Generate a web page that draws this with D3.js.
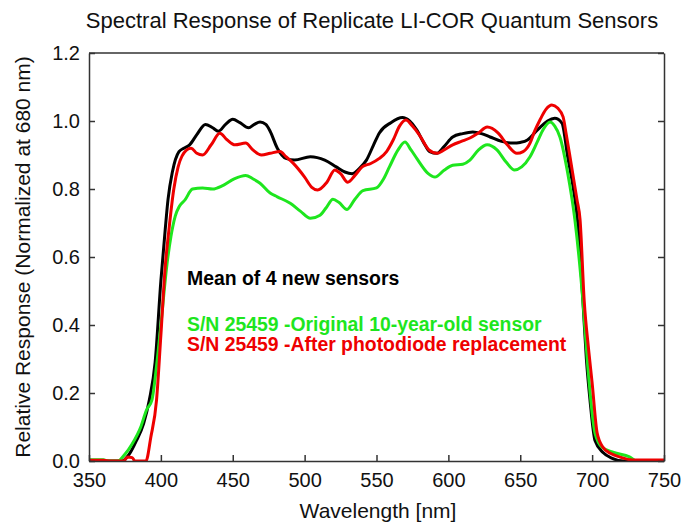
<!DOCTYPE html>
<html>
<head>
<meta charset="utf-8">
<script src="https://cdn.jsdelivr.net/npm/d3@7"></script>
<style>
  body { margin: 0; background: #fff; }
  text { font-family: "Liberation Sans", Arial, sans-serif; }
</style>
</head>
<body>
<div id="chart"></div>
<script>
// Mean of 4 new sensors (black)
const meanWl = [350, 370, 373, 378, 383, 388, 392, 396, 400, 403, 405, 408, 412.6, 416, 420, 425, 431, 436, 440, 445, 450, 455, 461, 465, 469, 473, 476, 481, 487, 493, 504, 514, 522, 528, 533, 538, 543, 548, 552, 560, 568, 573, 578, 583, 587, 592, 597, 603, 610, 617, 623, 629, 637, 645, 650, 655, 660, 664, 669, 674, 679, 683, 687, 690, 693.6, 696, 698.5, 702, 707.6, 714, 722, 750];
const meanVal = [0, 0, 0, 0.02, 0.06, 0.11, 0.18, 0.29, 0.53, 0.68, 0.77, 0.85, 0.91, 0.92, 0.93, 0.96, 0.99, 0.98, 0.97, 0.99, 1.005, 0.995, 0.98, 0.99, 0.997, 0.99, 0.97, 0.92, 0.89, 0.885, 0.895, 0.885, 0.865, 0.85, 0.845, 0.86, 0.885, 0.93, 0.965, 0.995, 1.01, 1.0, 0.974, 0.935, 0.91, 0.905, 0.925, 0.953, 0.963, 0.968, 0.963, 0.953, 0.94, 0.935, 0.937, 0.944, 0.965, 0.982, 1.0, 1.008, 0.994, 0.895, 0.8, 0.7, 0.47, 0.3, 0.18, 0.06, 0.025, 0.008, 0, 0];

// S/N 25459 original 10-year-old sensor (green)
const origWl = [350, 360, 363, 370, 375, 380, 386, 390, 393.8, 397, 400, 404, 407, 410, 413, 416.8, 422, 429, 436, 443, 451, 459, 464, 469, 476, 481, 490, 497, 504, 510.7, 515, 519.7, 524, 529.5, 535, 540.6, 550, 555, 559, 565, 569.8, 574, 578, 585.8, 590.7, 597, 603, 610, 615, 621, 627, 633.8, 640, 646, 651, 656.8, 662, 666, 670.7, 674, 677.6, 683, 688, 693.6, 697, 702, 707, 715, 726, 731, 750];
const origVal = [0.004, 0.004, 0, 0, 0.02, 0.05, 0.1, 0.15, 0.18, 0.28, 0.4, 0.57, 0.66, 0.72, 0.75, 0.768, 0.8, 0.803, 0.8, 0.81, 0.83, 0.84, 0.83, 0.817, 0.788, 0.777, 0.758, 0.735, 0.714, 0.723, 0.745, 0.77, 0.76, 0.74, 0.77, 0.795, 0.803, 0.83, 0.865, 0.915, 0.938, 0.915, 0.89, 0.846, 0.835, 0.855, 0.87, 0.873, 0.885, 0.915, 0.93, 0.915, 0.88, 0.856, 0.865, 0.895, 0.94, 0.975, 0.997, 0.985, 0.953, 0.847, 0.71, 0.47, 0.277, 0.082, 0.04, 0.025, 0.012, 0, 0];

// S/N 25459 after photodiode replacement (red)
const replWl = [350, 360, 365, 374, 377, 380, 382, 387, 389.6, 393, 397, 400, 403, 405.6, 409, 412, 418, 421, 425, 429, 435, 441, 446, 451.6, 459, 464, 470, 476, 483, 487, 492, 500, 505, 509, 515.5, 521, 525, 530, 535, 540, 546, 552, 557, 561.6, 566, 570.5, 575, 580, 586.5, 592, 597, 603, 609, 615, 621, 627, 634.5, 641, 647.7, 652, 656.8, 660, 663.7, 668, 672, 676, 679.8, 682, 684.6, 689.5, 691.6, 694.5, 697.5, 700, 703.5, 707.6, 713, 719, 728, 750];
const replVal = [0.002, 0.002, 0, 0, 0.012, 0.01, 0, 0, 0, 0.07, 0.18, 0.37, 0.57, 0.68, 0.8, 0.865, 0.915, 0.92, 0.905, 0.9, 0.93, 0.964, 0.945, 0.93, 0.935, 0.915, 0.9, 0.905, 0.91, 0.895, 0.876, 0.835, 0.805, 0.797, 0.82, 0.856, 0.845, 0.82, 0.84, 0.865, 0.875, 0.89, 0.91, 0.944, 0.985, 1.003, 0.985, 0.958, 0.915, 0.905, 0.915, 0.93, 0.94, 0.95, 0.965, 0.982, 0.965, 0.93, 0.905, 0.91, 0.935, 0.97, 1.003, 1.035, 1.047, 1.038, 1.012, 0.96, 0.895, 0.768, 0.71, 0.47, 0.33, 0.23, 0.082, 0.04, 0.022, 0.012, 0.003, 0.003];

const xTicks = [350, 400, 450, 500, 550, 600, 650, 700, 750];
const yTicks = [0, 0.2, 0.4, 0.6, 0.8, 1.0, 1.2];

const legendLabels = ['Mean of 4 new sensors', 'S/N 25459 -Original 10-year-old sensor', 'S/N 25459 -After photodiode replacement'];

const width = 683, height = 525;
const margin = { top: 53, right: 19, bottom: 64, left: 89 };
const plotW = width - margin.left - margin.right;
const plotH = height - margin.top - margin.bottom;

const svg = d3.select('#chart').append('svg')
  .attr('width', width)
  .attr('height', height);

const graph = svg.append('g')
  .attr('transform', `translate(${margin.left}, ${margin.top})`);

const x = d3.scaleLinear().domain([350, 750]).range([0, plotW]);
const y = d3.scaleLinear().domain([0, 1.2]).range([plotH, 0]);

svg.append('defs').append('clipPath').attr('id', 'clip')
  .append('rect').attr('x', 0).attr('y', -4).attr('width', plotW).attr('height', plotH + 4);

// curves
const line = d3.line()
  .x(d => x(d[0]))
  .y(d => y(d[1]))
  .curve(d3.curveMonotoneX);

const series = [
  { wl: meanWl, val: meanVal, color: '#000000' },
  { wl: origWl, val: origVal, color: '#1ee61e' },
  { wl: replWl, val: replVal, color: '#ee0000' },
];

const curves = graph.append('g').attr('clip-path', 'url(#clip)');
// black first, then green, red on top
series.forEach(s => {
  curves.append('path')
    .datum(s.wl.map((w, j) => [w, s.val[j]]))
    .attr('fill', 'none')
    .attr('stroke', s.color)
    .attr('stroke-width', 3)
    .attr('stroke-linejoin', 'round')
    .attr('d', line);
});

// axes
const xAxis = d3.axisBottom(x).tickValues(xTicks).tickSizeInner(-6).tickSizeOuter(0).tickPadding(12);
const yAxis = d3.axisLeft(y).tickValues(yTicks).tickSizeInner(-6).tickSizeOuter(0).tickPadding(9).tickFormat(d3.format('.1f'));
const yAxisR = d3.axisRight(y).tickValues(yTicks).tickSizeInner(-6).tickSizeOuter(0).tickFormat('');

const xAxisGroup = graph.append('g').attr('transform', `translate(0, ${plotH})`).call(xAxis);
const yAxisGroup = graph.append('g').call(yAxis);
const yAxisRGroup = graph.append('g').attr('transform', `translate(${plotW}, 0)`).call(yAxisR);

[xAxisGroup, yAxisGroup, yAxisRGroup].forEach(g => {
  g.select('.domain').attr('stroke', '#333').attr('stroke-width', 1.5);
  g.selectAll('.tick line').attr('stroke', '#333').attr('stroke-width', 1.5);
  g.selectAll('text')
    .attr('fill', '#111')
    .style('font-size', '20px')
    .style('font-family', '"Liberation Sans", Arial, sans-serif');
});

// top border
graph.append('line')
  .attr('x1', 0).attr('x2', plotW).attr('y1', 0).attr('y2', 0)
  .attr('stroke', '#333').attr('stroke-width', 1.5);

// title + axis labels
svg.append('text')
  .attr('x', 372).attr('y', 28)
  .attr('text-anchor', 'middle')
  .style('font-size', '22px')
  .attr('fill', '#111')
  .text('Spectral Response of Replicate LI-COR Quantum Sensors');

svg.append('text')
  .attr('x', 378).attr('y', 518)
  .attr('text-anchor', 'middle')
  .style('font-size', '21px')
  .attr('fill', '#111')
  .text('Wavelength [nm]');

svg.append('text')
  .attr('transform', `translate(30, 257) rotate(-90)`)
  .attr('text-anchor', 'middle')
  .style('font-size', '21px')
  .attr('fill', '#111')
  .text('Relative Response (Normalized at 680 nm)');

// legend text
const legendColors = ['#000000', '#1ee61e', '#ee0000'];
const legendY = [285, 331, 351];
legendLabels.forEach((t, i) => {
  svg.append('text')
    .attr('x', 187).attr('y', legendY[i])
    .style('font-size', '19.4px')
    .style('font-weight', 'bold')
    .attr('fill', legendColors[i])
    .text(t);
});
</script>
</body>
</html>
